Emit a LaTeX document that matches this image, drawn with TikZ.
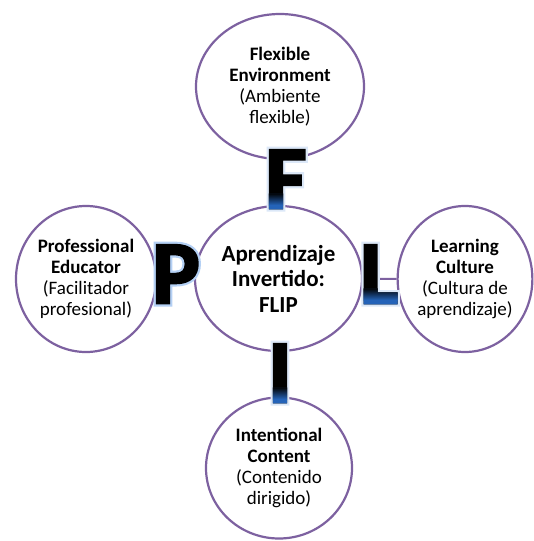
\documentclass[tikz,border=0pt]{standalone}
\usepackage{fontspec}
\setmainfont{Carlito}
\newfontfamily\letfont[FakeBold=3]{Carlito Bold}
\newfontfamily\glowfont[FakeBold=8]{Carlito Bold}
\usetikzlibrary{shapes.geometric}
\definecolor{circpurple}{HTML}{7D61A0}
\definecolor{glowblue}{HTML}{B4D0F4}
\definecolor{faintblue}{HTML}{DCE8F8}
\definecolor{deepblue}{HTML}{2463B8}
\tikzset{
  circ/.style={ellipse, draw=circpurple, line width=2.2pt, fill=white, align=center, inner sep=0pt,
    font=\fontsize{19}{21}\selectfont},
  conn/.style={draw=circpurple, line width=2pt},
  bigletter/.style={font=\fontsize{89}{89}\letfont, inner sep=0pt, anchor=base},
  glowletter/.style={font=\fontsize{89}{89}\glowfont, inner sep=0pt, anchor=base},
}
\newcommand\fliplet[5]{%
  % #1 name, #2 x, #3 y (baseline), #4 letter, #5 glow colour
  \node[glowletter, text=#5] (#1g) at (#2,#3) {#4};
  \node[bigletter, text=black] (#1) at (#2,#3) {#4};
}
\newcommand\fliplow[4]{%
  \foreach \k in {0,...,11}{
    \pgfmathsetmacro\pct{100*(12-\k)/12}
    \begin{scope}
      \clip (#2-60,#3-3-\k-1) rectangle (#2+60,#3-3-\k+0.2);
      \node[bigletter, text=deepblue!\pct!black] (#1s\k) at (#2,#3) {#4};
    \end{scope}
  }
  \begin{scope}
    \clip (#2-60,#3-3) rectangle (#2+60,#3+6);
    \node[bigletter, text=deepblue] (#1b) at (#2,#3) {#4};
  \end{scope}
}
\begin{document}
\begin{tikzpicture}[x=1pt,y=-1pt]
\useasboundingbox (0,0) rectangle (534,541);
\node[circ, minimum width=167pt, minimum height=145pt, font=\fontsize{23}{25.5}\selectfont\bfseries]
  (c) at (278.5,278.5) {Aprendizaje\\Invertido:\\FLIP};
\node[circ, minimum width=168pt, minimum height=145pt] (t) at (280,86.5)
  {\textbf{Flexible}\\\textbf{Environment}\\(Ambiente\\flexible)};
\node[circ, minimum width=140pt, minimum height=146pt] (l) at (86,279)
  {\textbf{Professional}\\\textbf{Educator}\\(Facilitador\\profesional)};
\node[circ, minimum width=134pt, minimum height=146pt] (r) at (465,279)
  {\textbf{Learning}\\\textbf{Culture}\\(Cultura de\\aprendizaje)};
\node[circ, minimum width=146pt, minimum height=141pt] (b) at (279,468)
  {\textbf{Intentional}\\\textbf{Content}\\(Contenido\\dirigido)};
\draw[conn] (c) -- (t);
\draw[conn] (c) -- (l);
\draw[conn] (c) -- (r);
\draw[conn] (c) -- (b);
\fliplet{F}{286}{208}{F}{faintblue}
\fliplow{F}{286}{208}{F}
\fliplet{L}{379}{303}{L}{faintblue}
\fliplow{L}{379}{303}{L}
\fliplet{P}{176}{303}{P}{glowblue}
\fliplet{I}{280}{402}{I}{faintblue}
\fliplow{I}{280}{402}{I}
\end{tikzpicture}
\end{document}
